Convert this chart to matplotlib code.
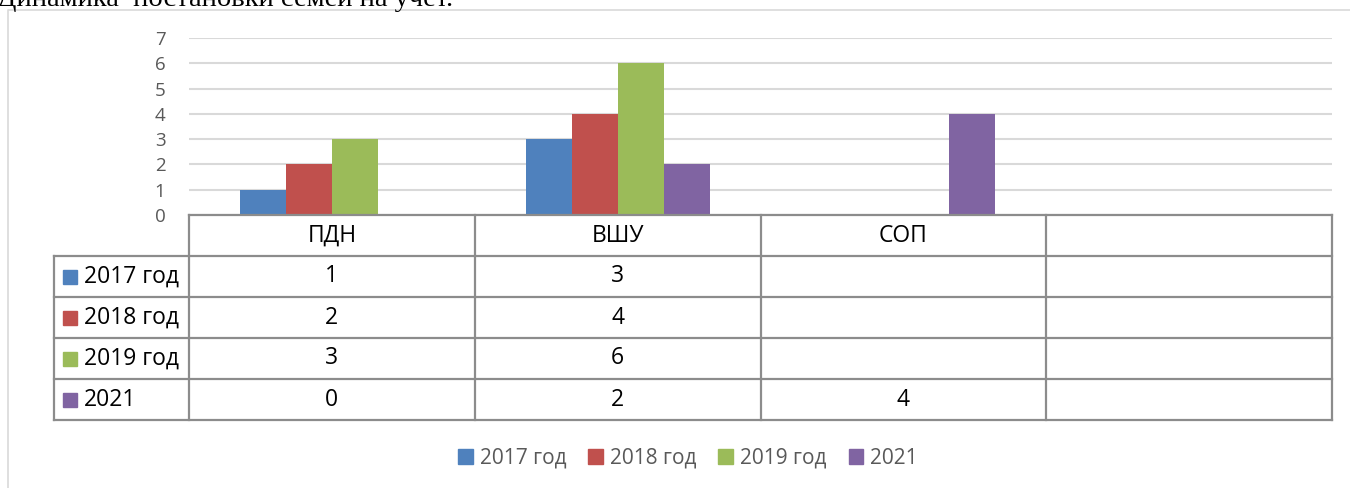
import matplotlib
matplotlib.use("Agg")
import matplotlib.pyplot as plt
from matplotlib.patches import Patch
import numpy as np

categories = ["ПДН", "ВШУ", "СОП", ""]
series_names = ["2017 год", "2018 год", "2019 год", "2021"]
v2017 = [1, 3, None, None]
v2018 = [2, 4, None, None]
v2019 = [3, 6, None, None]
v2021 = [0, 2, 4, None]
series_values = [v2017, v2018, v2019, v2021]
colors = ["#4F81BD", "#C0504D", "#9BBB59", "#8064A2"]
yticks = [0, 1, 2, 3, 4, 5, 6, 7]
title = "Динамика  постановки семей на учет."

W, H = 1350, 488
fig = plt.figure(figsize=(W / 100, H / 100), dpi=100)
FONT = "Open Sans"

def fx(x):
    return x / W

def fy(y):
    return 1 - y / H

# plot area in pixels
L, R, T, B = 189, 1332, 38, 215
ax = fig.add_axes([fx(L), fy(B), fx(R) - fx(L), fy(T) - fy(B)])
n = len(categories)
x = np.arange(n)
bw = 0.161
for i, (vals, c) in enumerate(zip(series_values, colors)):
    arr = np.array([np.nan if v is None else v for v in vals], dtype=float)
    ax.bar(x + (i - 1.5) * bw, arr, width=bw, color=c, zorder=3)
ax.set_xlim(-0.5, n - 0.5)
ax.set_ylim(0, 7)
ax.set_yticks(yticks)
ax.set_yticklabels([str(t) for t in yticks], fontsize=13.5, color="#595959", family=FONT)
ax.tick_params(axis="y", length=0, pad=17)
ax.set_xticks([])
for s in ax.spines.values():
    s.set_visible(False)
ax.grid(axis="y", color="#D9D9D9", linewidth=1.5, zorder=0)
ax.set_axisbelow(True)

# overlay for table, border and title
ov = fig.add_axes([0, 0, 1, 1])
ov.set_xlim(0, W)
ov.set_ylim(H, 0)
ov.axis("off")
ov.patch.set_alpha(0)

# chart border
ov.plot([8, 8, W + 5], [H + 5, 10, 10], color="#D9D9D9", lw=1.2)

# title (partly cut off at top, as in the source document)
ov.text(-3, 6, title, family="Liberation Serif", fontsize=20.5, color="black", va="baseline", ha="left")

# table
ppu = (R - L) / n
col_edges = [L + ppu * i for i in range(n + 1)]
row_h = 41
lc = "#8C8C8C"
lw = 1.6
lab_left = 54
n_rows = len(series_names)
bottom = B + row_h * (n_rows + 1)
ov.plot([L, R], [B, B], color=lc, lw=lw)
for r in range(1, n_rows + 2):
    yy = B + row_h * r
    ov.plot([lab_left, R], [yy, yy], color=lc, lw=lw)
for xe in col_edges:
    ov.plot([xe, xe], [B, bottom], color=lc, lw=lw)
ov.plot([lab_left, lab_left], [B + row_h, bottom], color=lc, lw=lw)

TS = 16.5
for i, cat in enumerate(categories):
    cx = (col_edges[i] + col_edges[i + 1]) / 2
    ov.text(cx, B + row_h / 2, cat, ha="center", va="center", fontsize=TS, family=FONT, color="black")
for r, (name, vals, c) in enumerate(zip(series_names, series_values, colors)):
    cy = B + row_h * (r + 1) + row_h / 2
    ov.add_patch(plt.Rectangle((63, cy - 7), 14, 14, color=c))
    ov.text(84, cy, name, ha="left", va="center", fontsize=TS, family=FONT, color="black")
    for i, v in enumerate(vals):
        if v is None:
            continue
        cx = (col_edges[i] + col_edges[i + 1]) / 2
        ov.text(cx, cy, str(v), ha="center", va="center", fontsize=TS, family=FONT, color="black")

# legend
handles = [Patch(facecolor=c, edgecolor=c) for c in colors]
leg = fig.legend(handles, series_names, loc="center", bbox_to_anchor=(fx(688), fy(458)), ncol=4,
                 frameon=False, handlelength=0.7, handleheight=0.7, handletextpad=0.35,
                 columnspacing=1.05, prop={"family": FONT, "size": 15})
for t in leg.get_texts():
    t.set_color("#595959")

fig.savefig("out.png", dpi=100)
